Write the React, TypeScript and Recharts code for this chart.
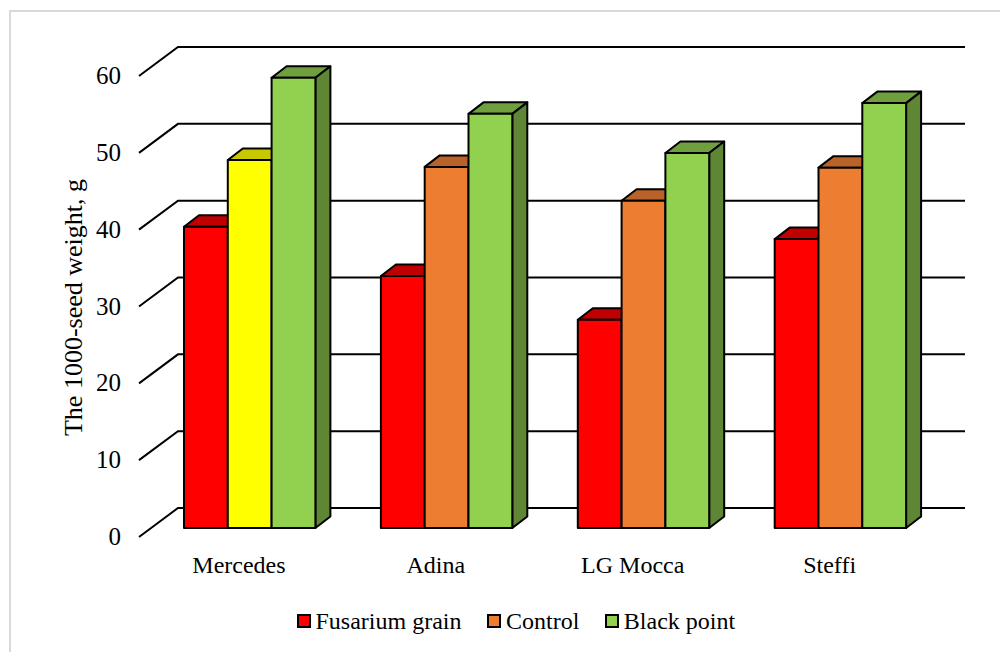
import { Bar, BarChart, CartesianGrid, Legend, XAxis, YAxis } from "recharts";

const varieties = ["Mercedes", "Adina", "LG Mocca", "Steffi"];
const fusariumGrain = [39.2, 32.8, 27.1, 37.6];
const control = [47.9, 47.0, 42.6, 46.9];
const blackPoint = [58.6, 53.9, 48.8, 55.3];
const valueTicks = [0, 10, 20, 30, 40, 50, 60];

const rows = varieties.map((name, i) => ({
  name,
  fusarium: fusariumGrain[i],
  control: control[i],
  black: blackPoint[i],
}));

const SERIF = '"Liberation Serif", "Times New Roman", serif';
const LINE = "#000";
const LINE_WIDTH = 2;

// depth of one column, and how far the back wall sits from the column plane
const DEPTH_X = 15;
const DEPTH_Y = 11.5;
const FLOOR_FRONT = { x: -12, y: 9 };
const FLOOR_BACK = { x: 27, y: -20 };

const RED = { front: "#ff0000", top: "#c00000", side: "#c00000" };
const ORANGE = { front: "#ed7d31", top: "#b9632a", side: "#b9632a" };
const YELLOW = { front: "#ffff00", top: "#c8c800", side: "#c8c800" };
const GREEN = { front: "#92d050", top: "#709f3e", side: "#5e8634" };

function Column({ x, y, width, height, colors }: any) {
  const dx = DEPTH_X;
  const dy = DEPTH_Y;
  const common = { stroke: LINE, strokeWidth: LINE_WIDTH, strokeLinejoin: "round" as const };
  return (
    <g>
      <polygon
        points={`${x},${y} ${x + dx},${y - dy} ${x + width + dx},${y - dy} ${x + width},${y}`}
        fill={colors.top}
        {...common}
      />
      <polygon
        points={`${x + width},${y} ${x + width + dx},${y - dy} ${x + width + dx},${y + height - dy} ${x + width},${y + height}`}
        fill={colors.side}
        {...common}
      />
      <rect x={x} y={y} width={width} height={height} fill={colors.front} {...common} />
    </g>
  );
}

// one gridline: the slanted floor edge plus the run along the back wall
function WallLine({ x1, x2, y1 }: any) {
  const backX = x1 + FLOOR_BACK.x;
  const backY = y1 + FLOOR_BACK.y;
  return (
    <path
      d={`M${x1 + FLOOR_FRONT.x},${y1 + FLOOR_FRONT.y} L${backX},${backY} L${x2 + FLOOR_BACK.x - 0.6},${backY}`}
      fill="none"
      stroke={LINE}
      strokeWidth={LINE_WIDTH}
    />
  );
}

function ValueTick({ y, payload }: any) {
  return (
    <text x={121} y={y + 9} dy={8} textAnchor="end" fontFamily={SERIF} fontSize={25} fill="#000">
      {payload.value}
    </text>
  );
}

function VarietyTick({ x, payload }: any) {
  return (
    <text x={x - 10.5} y={573} textAnchor="middle" fontFamily={SERIF} fontSize={24} fill="#000">
      {payload.value}
    </text>
  );
}

function AxisTitle() {
  return (
    <text
      transform="translate(82 307.5) rotate(-90)"
      textAnchor="middle"
      fontFamily={SERIF}
      fontSize={26}
      fill="#000"
    >
      The 1000-seed weight, g
    </text>
  );
}

function LegendRow({ payload }: any) {
  return (
    <div style={{ display: "flex", alignItems: "center", fontFamily: SERIF, fontSize: 24, lineHeight: "28px" }}>
      {payload.map((entry: any) => (
        <div key={entry.value} style={{ display: "flex", alignItems: "center", marginRight: 26 }}>
          <span
            style={{
              boxSizing: "border-box",
              width: 14,
              height: 14,
              marginRight: 4.5,
              background: entry.color,
              border: "2px solid #000",
            }}
          />
          <span>{entry.value}</span>
        </div>
      ))}
    </div>
  );
}

export default function App() {
  return (
    <div
      style={{
        position: "absolute",
        left: 0,
        top: 0,
        width: 1000,
        height: 652,
        overflow: "hidden",
        background: "#fff",
      }}
    >
      <div
        style={{
          position: "absolute",
          left: 9,
          top: 10,
          width: 1000,
          height: 660,
          borderLeft: "2px solid #d9d9d9",
          borderTop: "2px solid #d9d9d9",
        }}
      />
      <BarChart
        width={1000}
        height={652}
        data={rows}
        barSize={43.8}
        barGap={0}
        margin={{ top: 67, right: 61.4, bottom: 94, left: 91 }}
        style={{ position: "absolute", left: 0, top: 0 }}
      >
        <CartesianGrid vertical={false} horizontal={(props: any) => <WallLine key={props.key} {...props} />} />
        <XAxis dataKey="name" height={30} axisLine={false} tickLine={false} tick={<VarietyTick />} />
        <YAxis
          width={60}
          domain={[0, 60]}
          ticks={valueTicks}
          axisLine={false}
          tickLine={false}
          tick={<ValueTick />}
          label={<AxisTitle />}
        />
        <Legend
          layout="horizontal"
          verticalAlign="middle"
          align="center"
          itemSorter={null}
          content={<LegendRow />}
          wrapperStyle={{ left: 297, top: 607, width: 500 }}
        />
        <Bar
          dataKey="fusarium"
          name="Fusarium grain"
          fill={RED.front}
          isAnimationActive={false}
          shape={(p: any) => <Column {...p} colors={RED} />}
        />
        <Bar
          dataKey="control"
          name="Control"
          fill={ORANGE.front}
          isAnimationActive={false}
          shape={(p: any) => <Column {...p} colors={p.name === "Mercedes" ? YELLOW : ORANGE} />}
        />
        <Bar
          dataKey="black"
          name="Black point"
          fill={GREEN.front}
          isAnimationActive={false}
          shape={(p: any) => <Column {...p} colors={GREEN} />}
        />
      </BarChart>
    </div>
  );
}
